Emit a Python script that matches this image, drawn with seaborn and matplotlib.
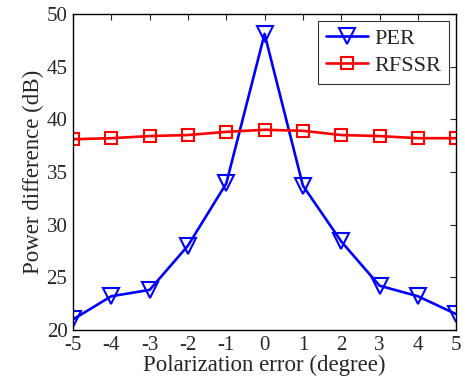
import numpy as np
import pandas as pd
import seaborn as sns
import matplotlib.pyplot as plt

# polarization error (degree)
pol_error = [-5, -4, -3, -2, -1, 0, 1, 2, 3, 4, 5]
per_db = [21.0, 23.2, 23.8, 28.0, 33.9, 48.1, 33.7, 28.4, 24.2, 23.2, 21.5]
rfssr_db = [38.1, 38.2, 38.4, 38.5, 38.8, 39.0, 38.9, 38.5, 38.4, 38.2, 38.2]

sns.set_style('white')
plt.rcParams['font.family'] = ['Liberation Serif', 'DejaVu Serif']
plt.rcParams['axes.unicode_minus'] = False

fig = plt.figure(figsize=(4.65, 3.85), dpi=100)
ax = fig.add_axes([0.157, 0.143, 0.824, 0.821])

sns.lineplot(x=pol_error, y=per_db, ax=ax, color='#0000ff', lw=1.9,
             marker='v', markersize=11, markerfacecolor='none',
             markeredgecolor='#0000ff', markeredgewidth=1.5, label='PER')
sns.lineplot(x=pol_error, y=rfssr_db, ax=ax, color='#ff0000', lw=1.9,
             marker='s', markersize=8, markerfacecolor='none',
             markeredgecolor='#ff0000', markeredgewidth=1.5, label='RFSSR')

ax.set_xlim(-5, 5)
ax.set_ylim(20, 50)
ax.set_xticks(pol_error)
ax.set_yticks(np.arange(20, 51, 5))
ax.tick_params(direction='in', length=4, width=0.8, labelsize=15,
               top=True, right=True, pad=4)
for s in ax.spines.values():
    s.set_color('black')
    s.set_linewidth(1.0)
ax.set_xlabel('Polarization error (degree)', fontsize=16.5, labelpad=0)
ax.set_ylabel('Power difference (dB)', fontsize=16.5, labelpad=2)

leg = ax.legend(loc='upper right', fontsize=16, frameon=True, fancybox=False,
                edgecolor='black', handlelength=1.9, borderaxespad=0.3,
                labelspacing=0.3, borderpad=0.35, handletextpad=0.3)
leg.get_frame().set_linewidth(0.8)

fig.savefig('out.png', dpi=100)
